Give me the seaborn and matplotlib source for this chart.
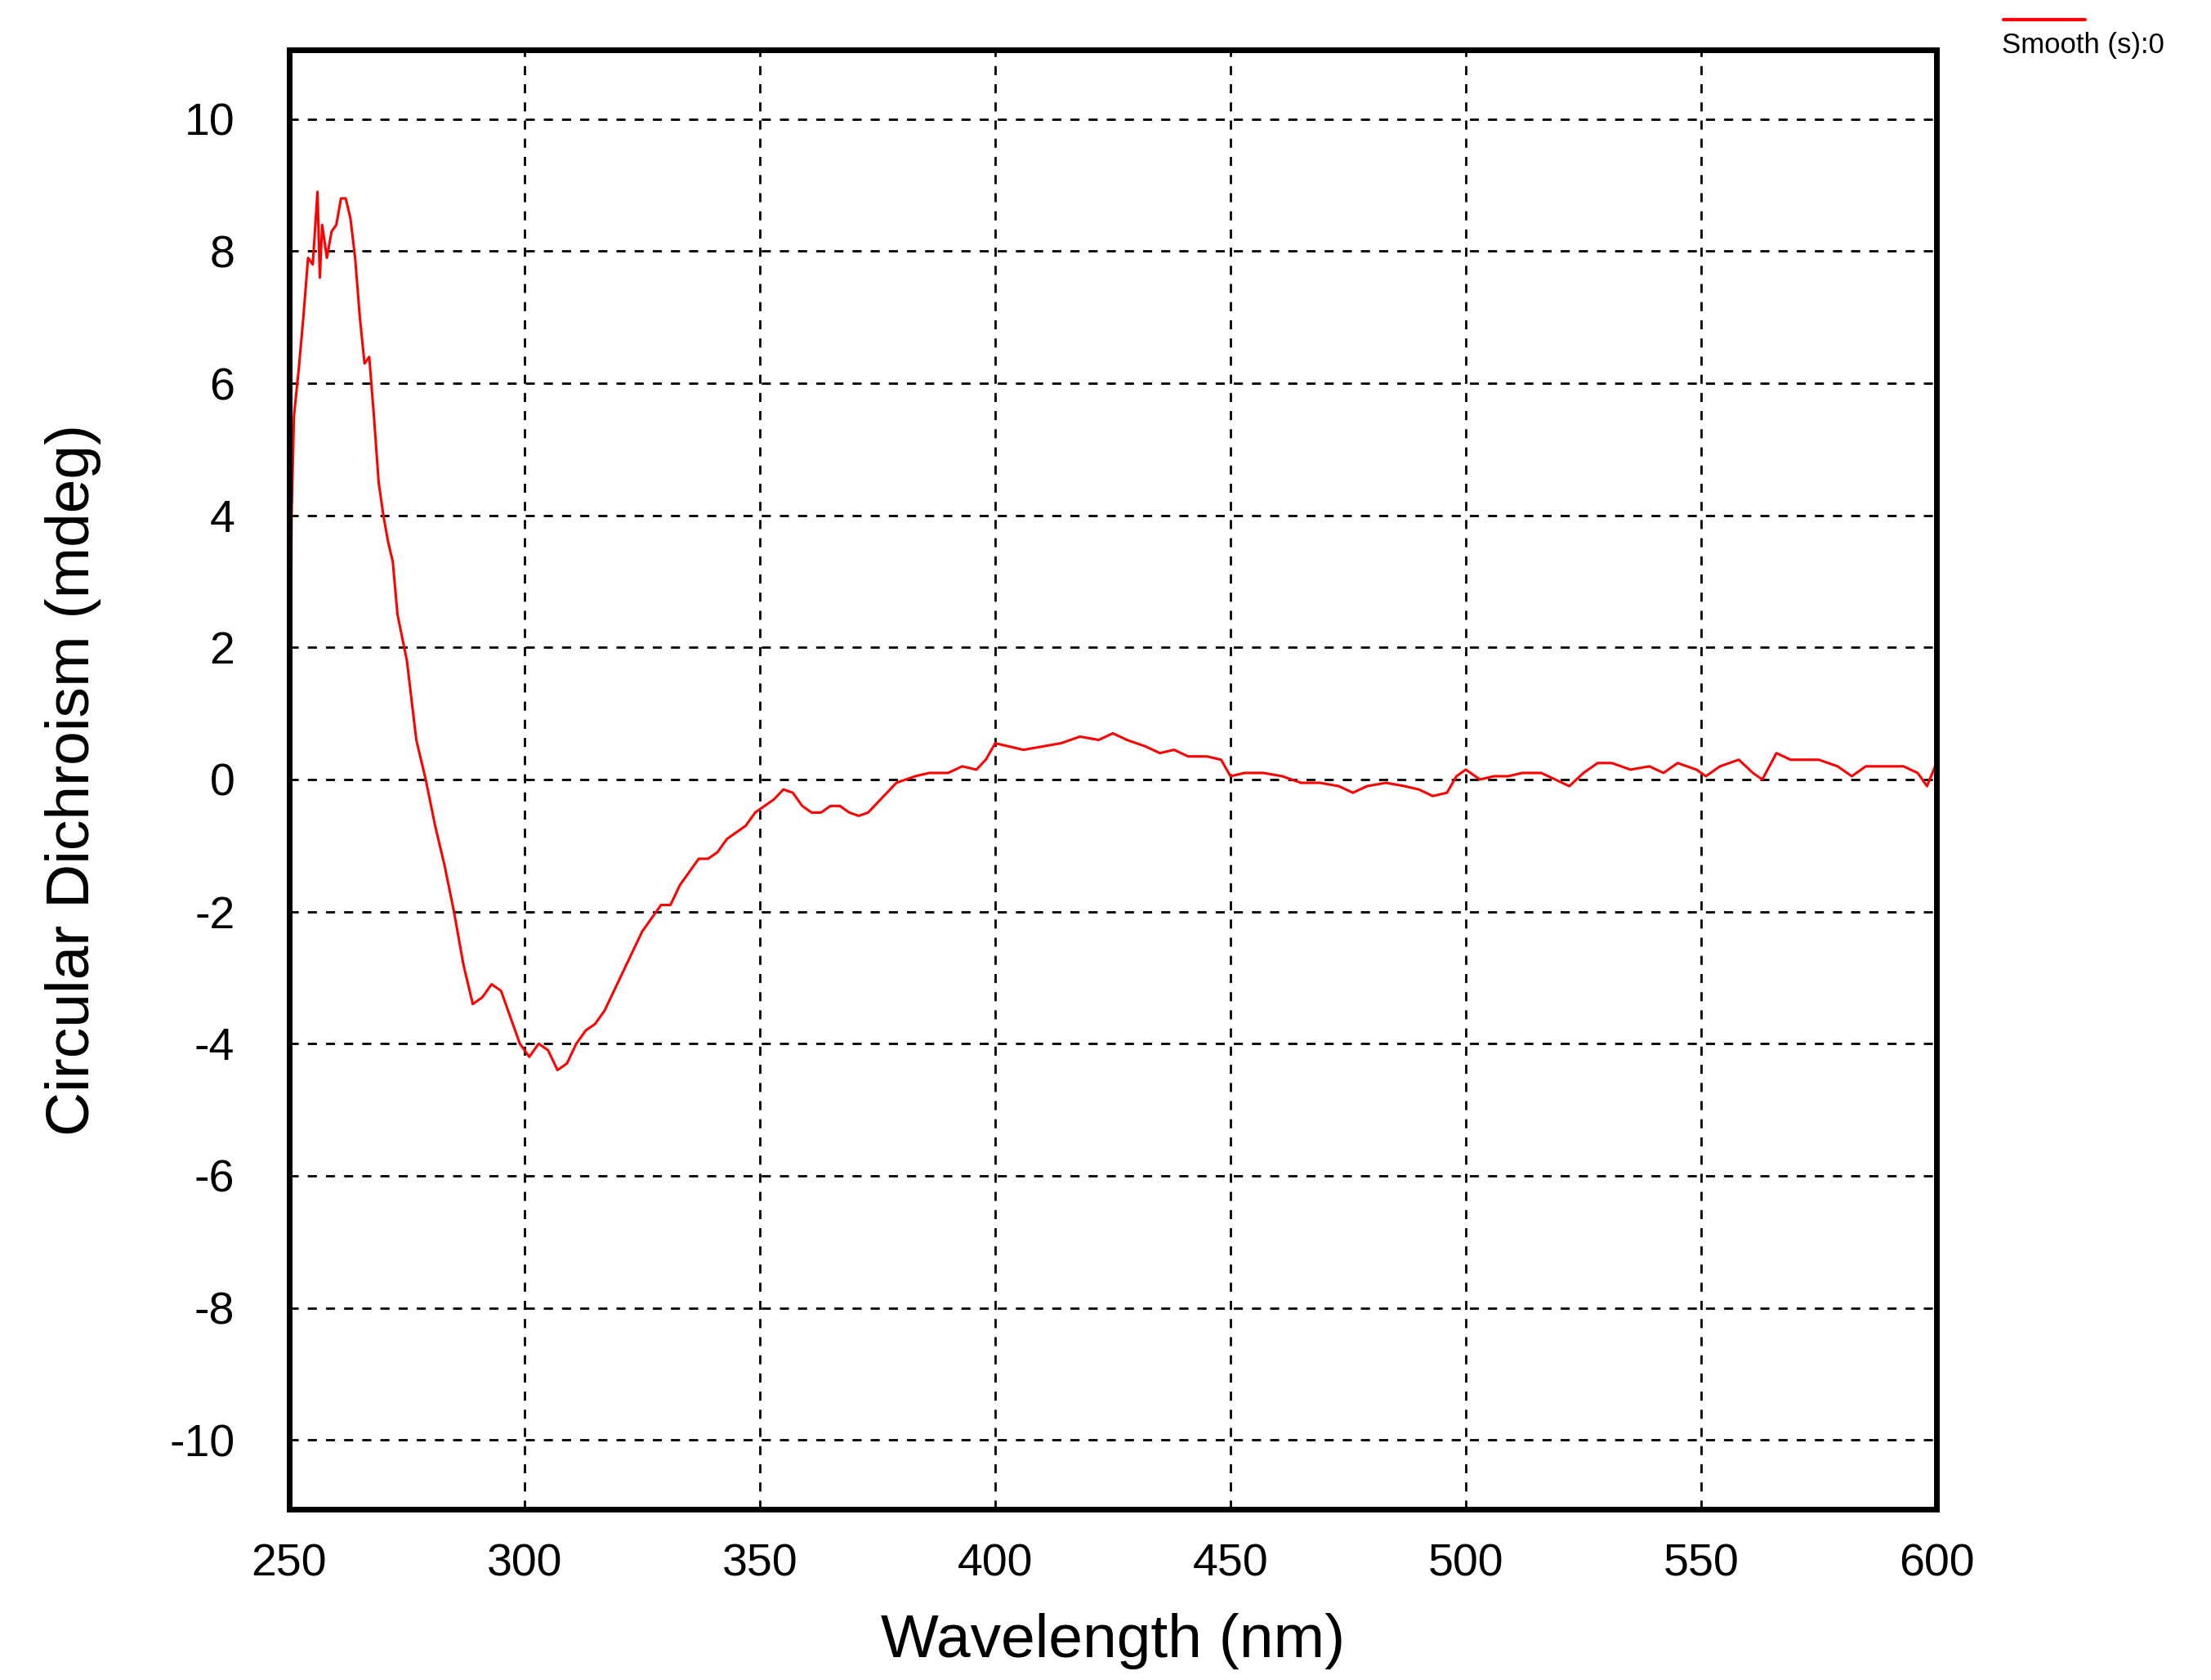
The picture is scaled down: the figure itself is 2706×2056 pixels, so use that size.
import numpy as np
import pandas as pd
import seaborn as sns
import matplotlib.pyplot as plt

# wavelength (nm) and CD signal (mdeg)
wavelength = [250, 250.5, 251, 252, 253, 254, 255, 256, 256.5, 257, 258, 259, 260, 261, 262, 263,
              264, 265, 266, 267, 268, 269, 270, 271, 272, 273, 275, 277, 279, 281, 283, 285,
              287, 289, 291, 293, 295, 297, 299, 301, 303, 305, 307, 309, 311, 313, 315, 317,
              319, 321, 323, 325, 327, 329, 331, 333, 335, 337, 339, 341, 343, 345, 347, 349,
              351, 353, 355, 357, 359, 361, 363, 365, 367, 369, 371, 373, 375, 377, 379, 381,
              383, 386, 390, 393, 396, 398, 400, 403, 406, 410, 414, 418, 422, 425, 428, 432,
              435, 438, 441, 445, 448, 450, 453, 457, 461, 465, 469, 473, 476, 479, 483, 487,
              490, 493, 496, 498, 500, 503, 506, 509, 512, 516, 519, 522, 525, 528, 531, 535,
              539, 542, 545, 549, 551, 554, 558, 561, 563, 566, 569, 572, 575, 579, 582, 585,
              589, 593, 596, 598, 600]
cd = [-2.5, 4.0, 5.5, 6.2, 7.0, 7.9, 7.8, 8.9, 7.6, 8.4, 7.9, 8.3, 8.4, 8.8, 8.8, 8.5,
      7.9, 7.0, 6.3, 6.4, 5.5, 4.5, 4.0, 3.6, 3.3, 2.5, 1.8, 0.6, 0.0, -0.7, -1.3, -2.0,
      -2.8, -3.4, -3.3, -3.1, -3.2, -3.6, -4.0, -4.2, -4.0, -4.1, -4.4, -4.3, -4.0, -3.8, -3.7, -3.5,
      -3.2, -2.9, -2.6, -2.3, -2.1, -1.9, -1.9, -1.6, -1.4, -1.2, -1.2, -1.1, -0.9, -0.8, -0.7, -0.5,
      -0.4, -0.3, -0.15, -0.2, -0.4, -0.5, -0.5, -0.4, -0.4, -0.5, -0.55, -0.5, -0.35, -0.2, -0.05, 0.0,
      0.05, 0.1, 0.1, 0.2, 0.15, 0.3, 0.55, 0.5, 0.45, 0.5, 0.55, 0.65, 0.6, 0.7, 0.6, 0.5,
      0.4, 0.45, 0.35, 0.35, 0.3, 0.05, 0.1, 0.1, 0.05, -0.05, -0.05, -0.1, -0.2, -0.1, -0.05, -0.1,
      -0.15, -0.25, -0.2, 0.05, 0.15, 0.0, 0.05, 0.05, 0.1, 0.1, 0.0, -0.1, 0.1, 0.25, 0.25, 0.15,
      0.2, 0.1, 0.25, 0.15, 0.05, 0.2, 0.3, 0.1, 0.0, 0.4, 0.3, 0.3, 0.3, 0.2, 0.05, 0.2,
      0.2, 0.2, 0.1, -0.1, 0.25]
yticks = np.arange(-10, 11, 2)

df = pd.DataFrame({'wl': wavelength, 'cd': cd})

sns.set_style('white')
plt.rcParams['font.family'] = ['Liberation Sans', 'DejaVu Sans']
plt.rcParams['text.color'] = 'black'
plt.rcParams['axes.labelcolor'] = 'black'
plt.rcParams['xtick.color'] = 'black'
plt.rcParams['ytick.color'] = 'black'

fig = plt.figure(figsize=(27.06, 20.56), dpi=100)
ax = fig.add_axes([354 / 2706, 1 - 1847 / 2056, (2370 - 354) / 2706, (1847 - 61) / 2056])

sns.lineplot(data=df, x='wl', y='cd', ax=ax, color='red', lw=2.2)

ax.set_xlim(250, 600)
ax.set_ylim(-11.05, 11.05)
ax.set_xticks(np.arange(250, 601, 50))
ax.set_yticks(yticks)
ax.set_yticklabels([str(v) for v in yticks])  # plain hyphen minus
ax.grid(True, color='black', linestyle=(0, (4, 4)), lw=2)
for s in ax.spines.values():
    s.set_linewidth(5)
    s.set_color('black')
ax.tick_params(labelsize=40, length=0)
ax.tick_params(axis='y', pad=48)
ax.tick_params(axis='x', pad=30)
ax.set_xlabel('Wavelength (nm)', fontsize=54, labelpad=24)
ax.set_ylabel('Circular Dichroism (mdeg)', fontsize=54, labelpad=60)

# legend in the top-right corner
fig.add_artist(plt.Line2D([2452 / 2706, 2552 / 2706], [1 - 24 / 2056] * 2, color='red', lw=3))
fig.text(2450 / 2706, 1 - 56 / 2056, 'Smooth (s):0', fontsize=25, va='center')

fig.savefig('out.png', dpi=100)
